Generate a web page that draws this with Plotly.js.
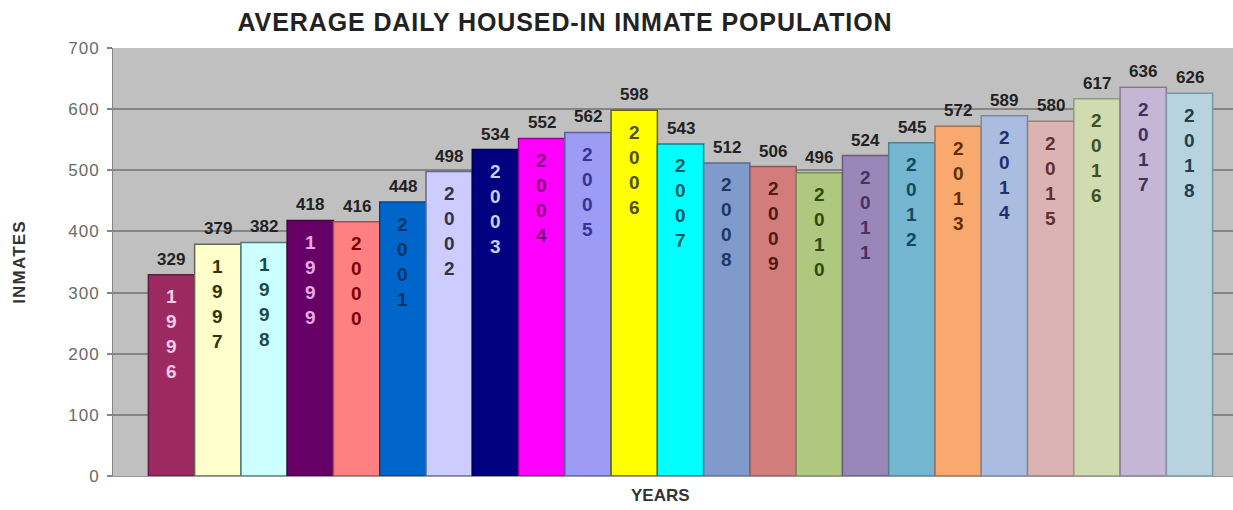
<!DOCTYPE html>
<html>
<head>
<meta charset="utf-8">
<script src="https://cdn.plot.ly/plotly-3.0.1.min.js"></script>
<style>
html,body{margin:0;padding:0;background:#fff;}
#chart{width:1233px;height:510px;}
#chart .gtitle{letter-spacing:0.9px;}
#chart .ytitle{letter-spacing:1.2px;}
#chart .ytick text{letter-spacing:1px;}
</style>
</head>
<body>
<div id="chart"></div>
<script>
const years = ['1996','1997','1998','1999','2000','2001','2002','2003','2004','2005','2006','2007','2008','2009','2010','2011','2012','2013','2014','2015','2016','2017','2018'];
const inmates = [329,379,382,418,416,448,498,534,552,562,598,543,512,506,496,524,545,572,589,580,617,636,626];
const barColors = ['#9c2a60','#ffffcc','#ccffff','#660066','#ff8080','#0066cc','#ccccff','#000080','#ff00ff','#9c9cf5','#ffff00','#00ffff','#7f9acb','#d27d7b','#aec87f','#9a87b9','#74b5cf','#f9a86e','#aabde0','#dbb3b3','#d0dbb0','#c4b6d4','#b7d3e0'];
const lineColors = ['#6a1a40','#666655','#557777','#440044','#995555','#004488','#666688','#000050','#990099','#5c5ca0','#666600','#008888','#5a6f90','#8a5a58','#7a8c5a','#6a5a80','#508090','#a07050','#7a8aa0','#9a8080','#909a80','#8a7a9a','#7a98a8'];
const yearTextColors = ['#f5c8e6','#333300','#1a4a4a','#e8a8e8','#800000','#003366','#333344','#c8d0ff','#800080','#333399','#505000','#006060','#203860','#501818','#304a10','#4a3060','#104a60','#603000','#203070','#603030','#405020','#403060','#204050'];

const trace = {
  type: 'bar',
  x: years,
  y: inmates,
  marker: {color: barColors, line: {color: lineColors, width: 1.5}},
  hoverinfo: 'x+y'
};

const FONT = 'Liberation Sans, Arial, sans-serif';
const annotations = [];
years.forEach((yr, i) => {
  yr.split('').forEach((digit, k) => {
    annotations.push({
      x: i, y: inmates[i], xref: 'x', yref: 'y',
      text: digit,
      showarrow: false, xanchor: 'center', yanchor: 'middle', yshift: -(22 + k * 25),
      font: {family: FONT, size: 19, color: yearTextColors[i], weight: 'bold'}
    });
  });
  annotations.push({
    x: i, y: inmates[i], xref: 'x', yref: 'y',
    text: String(inmates[i]),
    showarrow: false, yanchor: 'bottom', yshift: 4,
    font: {family: FONT, size: 17, color: '#222222', weight: 'bold'}
  });
});
annotations.push({
  x: (660 - 113) / 1120, y: -(495 - 476) / 428, xref: 'paper', yref: 'paper',
  xanchor: 'center', yanchor: 'middle',
  text: 'YEARS', showarrow: false,
  font: {family: FONT, size: 17, color: '#333333', weight: 'bold'}
});

const layout = {
  width: 1233, height: 510,
  margin: {l: 113, r: 0, t: 48, b: 34},
  paper_bgcolor: '#ffffff',
  plot_bgcolor: '#c0c0c0',
  bargap: 0,
  showlegend: false,
  title: {
    text: 'AVERAGE DAILY HOUSED-IN INMATE POPULATION',
    x: 565/1233, xref: 'container', xanchor: 'center',
    y: 1 - 22/510, yref: 'container', yanchor: 'middle',
    font: {family: FONT, size: 25, color: '#222222', weight: 'bold'}
  },
  xaxis: {
    type: 'category',
    range: [-1.264, 22.94],
    showticklabels: false,
    ticks: '',
    showgrid: false,
    showline: true, linecolor: '#9a9a9a', linewidth: 1,
    zeroline: false
  },
  yaxis: {
    range: [0, 700],
    tickvals: [0,100,200,300,400,500,600,700],
    ticks: 'outside', ticklen: 5, tickcolor: '#858585', tickwidth: 2,
    ticklabelstandoff: 4,
    showgrid: true, gridcolor: '#858585', gridwidth: 2,
    showline: true, linecolor: '#858585', linewidth: 1,
    zeroline: false,
    tickfont: {family: FONT, size: 17, color: '#6a6a6a'},
    title: {text: 'INMATES', standoff: 41, font: {family: FONT, size: 17, color: '#333333', weight: 'bold'}}
  },
  annotations: annotations
};

Plotly.newPlot('chart', [trace], layout, {displayModeBar: false, staticPlot: true});
</script>
</body>
</html>
